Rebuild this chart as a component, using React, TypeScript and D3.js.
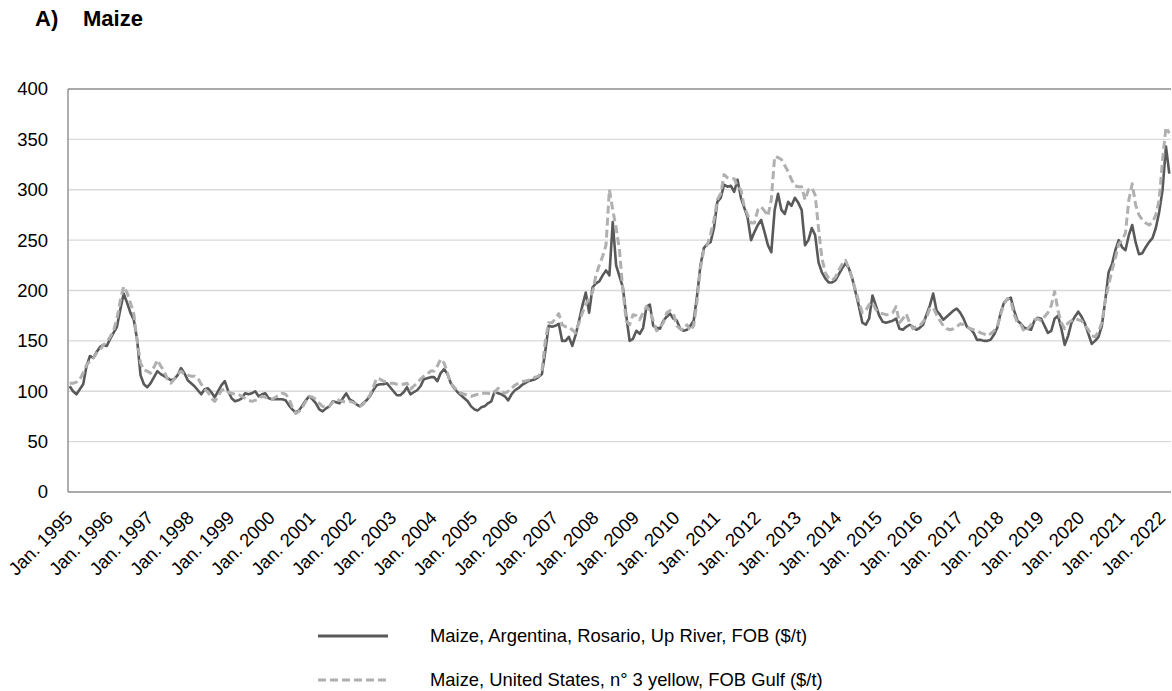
import React from 'react';
import * as d3 from 'd3';

// monthly FOB prices ($/t), Jan. 1995 - Mar. 2022
const argentina = [
  105, 100, 97, 102, 107, 125, 135, 133, 139, 144, 146, 145, // 1995
  152, 158, 164, 181, 197, 188, 178, 171, 151, 116, 107, 104, // 1996
  108, 114, 120, 117, 115, 113, 111, 112, 116, 123, 118, 111, // 1997
  108, 105, 101, 97, 102, 103, 99, 94, 100, 106, 110, 100, // 1998
  93, 90, 91, 93, 98, 97, 98, 100, 95, 97, 98, 93, // 1999
  92, 92, 92, 92, 91, 86, 82, 79, 81, 86, 91, 95, // 2000
  92, 88, 82, 80, 83, 85, 90, 89, 88, 93, 98, 92, // 2001
  90, 87, 85, 88, 91, 95, 101, 106, 107, 107, 108, 104, // 2002
  100, 96, 96, 99, 104, 97, 99, 101, 105, 112, 113, 114, // 2003
  114, 110, 118, 122, 117, 108, 103, 99, 96, 93, 90, 85, // 2004
  82, 81, 84, 85, 88, 90, 100, 98, 97, 95, 91, 97, // 2005
  101, 103, 106, 108, 110, 111, 112, 114, 117, 140, 165, 164, // 2006
  165, 167, 150, 150, 154, 145, 156, 170, 185, 198, 178, 203, // 2007
  207, 209, 215, 220, 215, 268, 225, 214, 203, 175, 150, 152, // 2008
  160, 157, 163, 184, 186, 165, 163, 162, 170, 174, 177, 172, // 2009
  170, 162, 160, 161, 165, 170, 195, 225, 242, 246, 248, 262, // 2010
  288, 292, 305, 303, 304, 298, 310, 292, 282, 272, 250, 258, // 2011
  265, 270, 258, 245, 238, 280, 296, 280, 276, 288, 284, 292, // 2012
  287, 280, 245, 250, 262, 255, 228, 218, 212, 208, 208, 210, // 2013
  216, 222, 227, 222, 212, 198, 184, 168, 166, 172, 195, 185, // 2014
  175, 169, 168, 169, 170, 172, 162, 161, 164, 166, 164, 161, // 2015
  163, 166, 176, 185, 197, 180, 176, 171, 174, 177, 180, 182, // 2016
  178, 172, 164, 162, 158, 151, 151, 150, 150, 151, 156, 163, // 2017
  178, 188, 191, 193, 180, 170, 167, 163, 162, 161, 170, 173, // 2018
  172, 165, 158, 160, 172, 175, 162, 146, 155, 168, 174, 179, // 2019
  174, 167, 157, 147, 150, 154, 165, 190, 218, 226, 240, 250, // 2020
  243, 240, 255, 265, 248, 236, 237, 243, 248, 252, 262, 278, // 2021
  300, 343, 316, // 2022
];

const unitedStates = [
  108, 108, 109, 112, 118, 126, 130, 133, 138, 141, 146, 149, // 1995
  154, 160, 172, 190, 204, 198, 188, 177, 150, 128, 121, 120, // 1996
  118, 124, 131, 125, 120, 112, 108, 112, 117, 120, 117, 116, // 1997
  115, 115, 113, 107, 102, 99, 93, 90, 95, 101, 102, 99, // 1998
  98, 97, 97, 95, 93, 91, 90, 91, 92, 95, 94, 92, // 1999
  92, 94, 96, 98, 97, 93, 84, 78, 80, 84, 90, 95, // 2000
  94, 92, 88, 85, 84, 85, 89, 92, 91, 90, 89, 90, // 2001
  89, 87, 85, 87, 92, 96, 104, 113, 112, 110, 109, 108, // 2002
  108, 107, 107, 107, 108, 102, 105, 108, 112, 115, 117, 120, // 2003
  120, 125, 132, 128, 118, 108, 104, 100, 98, 97, 96, 95, // 2004
  96, 97, 98, 98, 98, 97, 99, 103, 100, 98, 100, 103, // 2005
  106, 108, 110, 110, 111, 112, 114, 115, 120, 150, 168, 168, // 2006
  172, 177, 166, 164, 164, 161, 158, 168, 178, 186, 192, 198, // 2007
  215, 225, 234, 245, 300, 280, 262, 240, 200, 170, 166, 176, // 2008
  175, 171, 178, 184, 180, 170, 160, 163, 168, 178, 180, 177, // 2009
  165, 162, 161, 166, 160, 165, 190, 222, 240, 245, 256, 270, // 2010
  290, 296, 315, 312, 311, 311, 303, 300, 283, 275, 267, 267, // 2011
  280, 283, 279, 274, 290, 333, 332, 330, 324, 318, 310, 304, // 2012
  303, 303, 290, 300, 302, 295, 262, 232, 218, 212, 210, 213, // 2013
  220, 226, 230, 222, 212, 200, 188, 178, 180, 186, 188, 181, // 2014
  178, 177, 176, 176, 178, 184, 168, 172, 177, 168, 162, 164, // 2015
  165, 169, 173, 182, 183, 176, 170, 165, 162, 161, 162, 164, // 2016
  167, 166, 164, 162, 161, 160, 158, 157, 155, 157, 160, 164, // 2017
  176, 187, 192, 190, 176, 168, 166, 159, 162, 166, 171, 172, // 2018
  170, 174, 178, 185, 199, 180, 168, 162, 168, 170, 172, 171, // 2019
  170, 165, 161, 155, 154, 159, 168, 190, 205, 220, 232, 246, // 2020
  250, 257, 290, 306, 285, 275, 270, 267, 265, 268, 275, 290, // 2021
  330, 362, 356, // 2022
];

const startYear = 1995;
const tickYears = d3.range(1995, 2023);
const yTicks = [0, 50, 100, 150, 200, 250, 300, 350, 400];
const legendLabels = [
  'Maize, Argentina, Rosario, Up River, FOB ($/t)',
  'Maize, United States, n° 3 yellow, FOB Gulf ($/t)',
];

const W = 1172;
const H = 691;
const margin = { top: 89, right: 1, bottom: 199, left: 68 };
const font = '"Liberation Sans", Arial, sans-serif';

export default function App() {
  const months = d3.range(argentina.length);
  const x = d3.scaleBand<number>()
    .domain(months)
    .range([margin.left, W - margin.right])
    .padding(0);
  const y = d3.scaleLinear()
    .domain([0, 400])
    .range([H - margin.bottom, margin.top]);
  const cx = (i: number) => (x(i) as number) + x.bandwidth() / 2;

  const line = d3.line<number>()
    .x((_, i) => cx(i))
    .y(d => y(d));

  const x0 = margin.left;
  const x1 = W - margin.right;

  return (
    <svg width={W} height={H} style={{ position: 'absolute', left: 0, top: 0, background: '#fff' }}
      fontFamily={font}>
      <text x={35} y={26} fontSize={22} fontWeight="bold" fill="#000">A)</text>
      <text x={83} y={26} fontSize={22} fontWeight="bold" fill="#000">Maize</text>

      {/* gridlines */}
      {yTicks.map(t => (
        <line key={t} x1={x0} x2={x1} y1={y(t)} y2={y(t)}
          stroke={t === 400 || t === 0 ? '#8c8c8c' : '#d9d9d9'} strokeWidth={1.4} />
      ))}
      <line x1={x0} x2={x0} y1={y(400)} y2={y(0)} stroke="#8c8c8c" strokeWidth={1.4} />

      {/* y labels */}
      {yTicks.map(t => (
        <text key={t} x={48} y={y(t)} dy="0.35em" textAnchor="end" fontSize={18.5} fill="#000">{t}</text>
      ))}

      {/* x labels */}
      {tickYears.map(yr => {
        const i = (yr - startYear) * 12;
        const tx = cx(i) + 4;
        const ty = y(0) + 27;
        return (
          <text key={yr} x={tx} y={ty} transform={`rotate(-45, ${tx}, ${ty})`}
            textAnchor="end" fontSize={18.5} fill="#000">{`Jan. ${yr}`}</text>
        );
      })}

      <path d={line(argentina) || ''} fill="none" stroke="#595959" strokeWidth={2.6}
        strokeLinejoin="round" />
      <path d={line(unitedStates) || ''} fill="none" stroke="#b0b0b0" strokeWidth={3}
        strokeDasharray="8,4" strokeLinejoin="round" />

      {/* legend */}
      <line x1={318} x2={388} y1={636} y2={636} stroke="#595959" strokeWidth={2.8} />
      <text x={430} y={636} dy="0.35em" fontSize={18.4} fill="#000">{legendLabels[0]}</text>
      <line x1={318} x2={388} y1={680} y2={680} stroke="#b0b0b0" strokeWidth={3} strokeDasharray="8,4" />
      <text x={430} y={680} dy="0.35em" fontSize={18.4} fill="#000">{legendLabels[1]}</text>
    </svg>
  );
}
